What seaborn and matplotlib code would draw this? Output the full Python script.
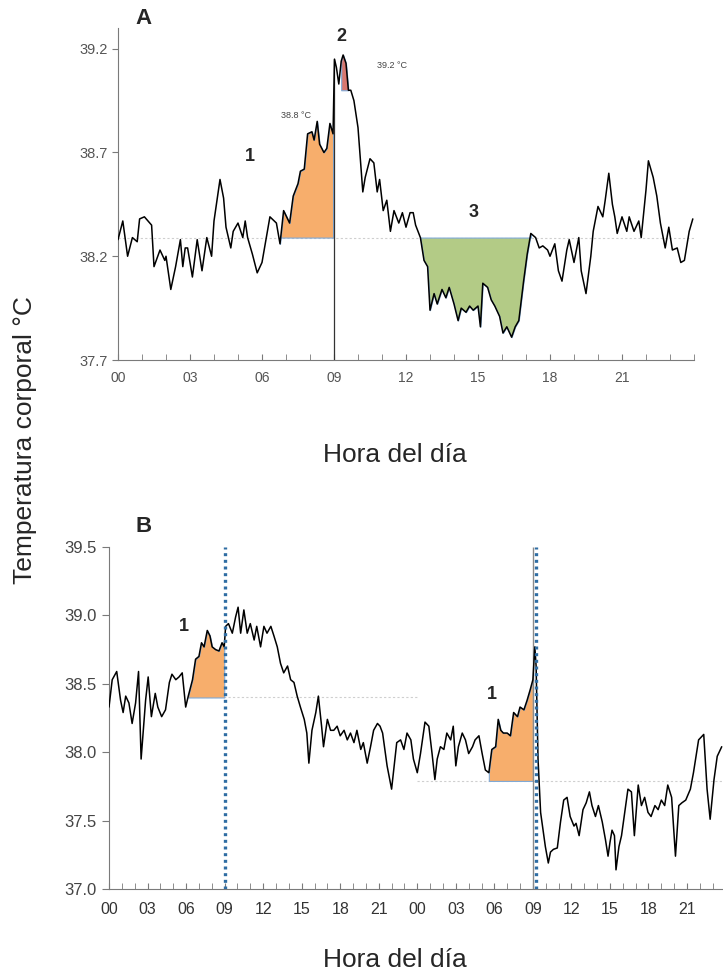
import numpy as np
import pandas as pd
import matplotlib
matplotlib.use("Agg")
import matplotlib.pyplot as plt
import seaborn as sns

# ---------------- data ----------------
hours_a = [0.0, 0.2, 0.4, 0.6, 0.8, 0.9, 1.1, 1.4, 1.5, 1.75, 1.95, 2.0, 2.2, 2.4, 2.6, 2.7, 2.8, 2.9,
           3.1, 3.3, 3.5, 3.7, 3.9, 4.0, 4.25, 4.4, 4.5, 4.7, 4.8, 5.0, 5.2, 5.3, 5.4, 5.6, 5.8, 6.0,
           6.33, 6.6, 6.75, 6.9, 7.15, 7.3, 7.5, 7.6, 7.76, 7.9, 8.08, 8.17, 8.3, 8.4, 8.58, 8.7,
           8.83, 8.96, 9.02, 9.1, 9.2, 9.3, 9.38, 9.5, 9.6, 9.7, 9.83, 10.0, 10.2, 10.3, 10.5, 10.66,
           10.8, 10.9, 11.05, 11.2, 11.35, 11.5, 11.7, 11.85, 12.0, 12.17, 12.3, 12.4, 12.6, 12.75,
           12.9, 13.0, 13.17, 13.3, 13.5, 13.66, 13.8, 14.0, 14.17, 14.3, 14.5, 14.65, 14.8, 15.0,
           15.1, 15.2, 15.4, 15.55, 15.7, 15.9, 16.04, 16.2, 16.4, 16.55, 16.7, 16.9, 17.05, 17.2,
           17.4, 17.55, 17.7, 17.9, 18.0, 18.2, 18.35, 18.5, 18.7, 18.8, 19.0, 19.2, 19.3, 19.5,
           19.7, 19.8, 20.0, 20.2, 20.3, 20.45, 20.6, 20.7, 20.8, 21.0, 21.2, 21.3, 21.5, 21.7,
           21.8, 22.0, 22.1, 22.3, 22.45, 22.6, 22.8, 22.95, 23.1, 23.3, 23.45, 23.6, 23.8, 23.95]
temp_a = [38.28, 38.37, 38.20, 38.29, 38.27, 38.38, 38.39, 38.35, 38.15, 38.23, 38.18, 38.20, 38.04,
          38.15, 38.28, 38.15, 38.24, 38.24, 38.10, 38.28, 38.13, 38.29, 38.20, 38.37, 38.57, 38.48,
          38.34, 38.24, 38.32, 38.36, 38.29, 38.37, 38.29, 38.21, 38.12, 38.17, 38.39, 38.36, 38.26,
          38.42, 38.36, 38.49, 38.55, 38.61, 38.62, 38.79, 38.80, 38.76, 38.85, 38.74, 38.70, 38.72,
          38.84, 38.79, 39.15, 39.11, 39.03, 39.14, 39.17, 39.13, 39.00, 39.00, 38.95, 38.82, 38.51,
          38.58, 38.67, 38.65, 38.51, 38.57, 38.42, 38.47, 38.32, 38.42, 38.36, 38.41, 38.34, 38.41,
          38.41, 38.35, 38.29, 38.18, 38.15, 37.94, 38.02, 37.97, 38.04, 38.00, 38.05, 37.97, 37.89,
          37.95, 37.93, 37.96, 37.94, 37.96, 37.86, 38.07, 38.05, 37.99, 37.96, 37.91, 37.83, 37.86,
          37.81, 37.86, 37.89, 38.08, 38.21, 38.31, 38.29, 38.24, 38.25, 38.23, 38.20, 38.26, 38.13,
          38.08, 38.23, 38.28, 38.17, 38.29, 38.13, 38.02, 38.20, 38.32, 38.44, 38.39, 38.47, 38.60,
          38.45, 38.39, 38.31, 38.39, 38.32, 38.39, 38.32, 38.37, 38.29, 38.52, 38.66, 38.58, 38.49,
          38.36, 38.24, 38.34, 38.23, 38.24, 38.17, 38.18, 38.32, 38.38]

hours_b = [0.0, 0.25, 0.6, 0.9, 1.1, 1.3, 1.55, 1.8, 2.07, 2.3, 2.5, 2.85, 3.05, 3.3, 3.6, 3.8, 4.1,
           4.4, 4.7, 4.9, 5.2, 5.45, 5.7, 5.97, 6.17, 6.5, 6.74, 7.0, 7.2, 7.4, 7.65, 7.86, 8.03, 8.3,
           8.56, 8.8, 8.97, 9.08, 9.3, 9.6, 9.86, 10.05, 10.25, 10.5, 10.76, 11.0, 11.3, 11.5, 11.8,
           12.06, 12.3, 12.6, 12.84, 13.1, 13.35, 13.6, 13.9, 14.14, 14.4, 14.65, 14.9, 15.2, 15.4,
           15.56, 15.8, 16.1, 16.3, 16.55, 16.7, 17.0, 17.25, 17.5, 17.76, 18.0, 18.3, 18.55, 18.8,
           19.07, 19.3, 19.6, 19.8, 20.1, 20.36, 20.6, 20.9, 21.1, 21.3, 21.65, 22.0, 22.4, 22.7,
           22.96, 23.2, 23.5, 23.7, 24.0, 24.25, 24.6, 24.9, 25.15, 25.37, 25.55, 25.8, 26.07, 26.3,
           26.6, 26.8, 27.0, 27.2, 27.5, 27.75, 28.0, 28.3, 28.5, 28.8, 29.05, 29.3, 29.57, 29.8,
           30.1, 30.3, 30.5, 30.7, 31.0, 31.25, 31.5, 31.8, 32.0, 32.3, 32.55, 32.8, 33.0, 33.15,
           33.25, 33.4, 33.6, 33.97, 34.2, 34.37, 34.6, 34.9, 35.15, 35.4, 35.66, 35.9, 36.2, 36.36,
           36.6, 36.9, 37.15, 37.4, 37.6, 37.87, 38.1, 38.4, 38.65, 38.85, 39.0, 39.16, 39.35, 39.47,
           39.7, 39.9, 40.15, 40.4, 40.67, 40.9, 41.2, 41.45, 41.7, 41.96, 42.2, 42.5, 42.75, 43.0,
           43.26, 43.5, 43.8, 44.1, 44.36, 44.6, 44.9, 45.26, 45.5, 45.9, 46.3, 46.56, 46.8, 47.1,
           47.35, 47.7]
temp_b = [38.33, 38.53, 38.59, 38.38, 38.29, 38.41, 38.36, 38.21, 38.36, 38.59, 37.95, 38.38, 38.55,
          38.26, 38.43, 38.33, 38.26, 38.31, 38.51, 38.57, 38.53, 38.55, 38.58, 38.33, 38.41, 38.53,
          38.68, 38.70, 38.80, 38.77, 38.89, 38.85, 38.77, 38.75, 38.74, 38.80, 38.77, 38.92, 38.94,
          38.87, 38.99, 39.06, 38.87, 39.04, 38.87, 38.94, 38.82, 38.92, 38.77, 38.92, 38.87, 38.92,
          38.85, 38.77, 38.65, 38.58, 38.63, 38.53, 38.51, 38.41, 38.33, 38.24, 38.14, 37.92, 38.16,
          38.29, 38.41, 38.19, 38.04, 38.24, 38.16, 38.16, 38.19, 38.12, 38.16, 38.09, 38.14, 38.07,
          38.16, 38.02, 38.07, 37.92, 38.04, 38.16, 38.21, 38.19, 38.14, 37.90, 37.73, 38.07, 38.09,
          38.02, 38.14, 38.09, 37.95, 37.85, 37.99, 38.22, 38.19, 37.99, 37.80, 37.95, 38.04, 38.02,
          38.14, 38.09, 38.19, 37.90, 38.04, 38.14, 38.09, 37.99, 38.04, 38.09, 38.12, 37.99, 37.87,
          37.85, 38.02, 38.04, 38.24, 38.16, 38.14, 38.14, 38.12, 38.29, 38.26, 38.33, 38.31, 38.38,
          38.46, 38.53, 38.77, 38.63, 37.95, 37.56, 37.31, 37.19, 37.27, 37.29, 37.30, 37.49, 37.65,
          37.67, 37.53, 37.46, 37.48, 37.39, 37.58, 37.63, 37.71, 37.61, 37.53, 37.61, 37.49, 37.36,
          37.24, 37.34, 37.43, 37.39, 37.14, 37.31, 37.39, 37.56, 37.73, 37.71, 37.39, 37.76, 37.61,
          37.67, 37.56, 37.53, 37.61, 37.58, 37.65, 37.61, 37.76, 37.67, 37.24, 37.61, 37.63, 37.65,
          37.73, 37.85, 38.09, 38.13, 37.73, 37.51, 37.80, 37.97, 38.04]

yticks_a = [37.7, 38.2, 38.7, 39.2]
xticks_a = [0, 3, 6, 9, 12, 15, 18, 21]
xlabels_a = ["00", "03", "06", "09", "12", "15", "18", "21"]
yticks_b = [37.0, 37.5, 38.0, 38.5, 39.0, 39.5]
xticks_b = [0, 3, 6, 9, 12, 15, 18, 21, 24, 27, 30, 33, 36, 39, 42, 45]
xlabels_b = ["00", "03", "06", "09", "12", "15", "18", "21",
             "00", "03", "06", "09", "12", "15", "18", "21"]

baseline_a = 38.29
baseline_b1 = 38.40
baseline_b2 = 37.79
fever_peak_a = 39.0

# ---------------- style ----------------
sns.set_style("ticks")
plt.rcParams["font.family"] = ["Liberation Sans", "DejaVu Sans"]

df_a = pd.DataFrame({"hora": hours_a, "temp": temp_a})
df_b = pd.DataFrame({"hora": hours_b, "temp": temp_b})

fig = plt.figure(figsize=(7.23, 9.76), dpi=100)
W, H = 723.0, 976.0
axA = fig.add_axes([118 / W, 1 - 360 / H, (694 - 118) / W, (360 - 28) / H])
axB = fig.add_axes([109 / W, 1 - 889 / H, (723 - 109) / W, (889 - 547) / H])

ORANGE = "#F7AE6C"
RED = "#D8776F"
GREEN = "#B3CB86"
EDGE = "#7FA9D6"
SPINE = "#7a7a7a"
TICKC = "#555555"

ha = np.array(hours_a)
ta = np.array(temp_a)
hb = np.array(hours_b)
tb = np.array(temp_b)

# ----- panel A -----
axA.plot([0, 24], [baseline_a, baseline_a], color="#cfcfcf", lw=0.8, ls=(0, (2, 2)), zorder=1)
m1 = (ha >= 6.75) & (ha <= 9.0)
axA.fill_between(ha, baseline_a, ta, where=m1, color=ORANGE, edgecolor=EDGE, lw=0.8, zorder=2)
m2 = (ha >= 9.25) & (ha <= 9.6)
axA.fill_between(ha, fever_peak_a, ta, where=m2, color=RED, edgecolor=EDGE, lw=0.8, zorder=2)
m3 = (ha >= 12.6) & (ha <= 17.2)
axA.fill_between(ha, baseline_a, ta, where=m3, color=GREEN, edgecolor=EDGE, lw=0.8, zorder=2)
axA.vlines(9.0, 37.7, 39.15, color="#333333", lw=0.9, zorder=3)
sns.lineplot(data=df_a, x="hora", y="temp", ax=axA, color="black", lw=1.1,
             estimator=None, sort=False, zorder=4)

axA.set_xlim(0, 24)
axA.set_ylim(37.7, 39.3)
axA.set_yticks(yticks_a)
axA.set_yticklabels([f"{v:.1f}" for v in yticks_a])
axA.set_xticks(xticks_a)
axA.set_xticklabels(xlabels_a)
axA.set_xticks(np.arange(0, 25, 1), minor=True)
axA.tick_params(axis="y", direction="out", length=4, color=SPINE, labelcolor=TICKC, labelsize=10.5, pad=3)
axA.tick_params(axis="x", which="both", direction="in", length=4, color=SPINE, labelcolor=TICKC,
                labelsize=10, pad=8)
for s in ["top", "right"]:
    axA.spines[s].set_visible(False)
for s in ["left", "bottom"]:
    axA.spines[s].set_color(SPINE)
axA.set_xlabel("")
axA.set_ylabel("")

axA.text(5.5, 38.68, "1", fontsize=13, fontweight="bold", ha="center", va="center")
axA.text(9.3, 39.26, "2", fontsize=13, fontweight="bold", ha="center", va="center")
axA.text(14.8, 38.41, "3", fontsize=13, fontweight="bold", ha="center", va="center")
axA.text(7.4, 38.88, "38.8 °C", fontsize=6.5, color="#444444", ha="center", va="center")
axA.text(11.4, 39.12, "39.2 °C", fontsize=6.5, color="#444444", ha="center", va="center")

# ----- panel B -----
axB.plot([6.17, 24.0], [baseline_b1, baseline_b1], color="#cfcfcf", lw=0.8, ls=(0, (2, 2)), zorder=1)
axB.plot([24.0, 47.8], [baseline_b2, baseline_b2], color="#cfcfcf", lw=0.8, ls=(0, (2, 2)), zorder=1)
mb1 = (hb >= 6.17) & (hb <= 9.0)
axB.fill_between(hb, baseline_b1, tb, where=mb1, color=ORANGE, edgecolor=EDGE, lw=0.8, zorder=2)
mb2 = (hb >= 29.57) & (hb <= 33.0)
axB.fill_between(hb, baseline_b2, tb, where=mb2, color=ORANGE, edgecolor=EDGE, lw=0.8, zorder=2)
axB.vlines(33.0, 37.0, 39.5, color="#8a8a8a", lw=1.0, zorder=3)
sns.lineplot(data=df_b, x="hora", y="temp", ax=axB, color="black", lw=1.1,
             estimator=None, sort=False, zorder=4)
for xv in [9.0, 33.27]:
    axB.vlines(xv, 37.0, 39.5, color="#2F6DA3", lw=2.4, linestyles=(0, (0.9, 1.1)), zorder=5)

axB.set_xlim(0, 47.8)
axB.set_ylim(37.0, 39.5)
axB.set_yticks(yticks_b)
axB.set_yticklabels([f"{v:.1f}" for v in yticks_b])
axB.set_xticks(xticks_b)
axB.set_xticklabels(xlabels_b)
axB.set_xticks(np.arange(0, 48, 1), minor=True)
axB.tick_params(axis="y", direction="out", length=5, color=SPINE, labelcolor="#444444", labelsize=12, pad=4)
axB.tick_params(axis="x", which="both", direction="in", length=4, color=SPINE, labelcolor="#333333",
                labelsize=11.5, pad=9)
for s in ["top", "right"]:
    axB.spines[s].set_visible(False)
for s in ["left", "bottom"]:
    axB.spines[s].set_color(SPINE)
axB.set_xlabel("")
axB.set_ylabel("")

axB.text(5.84, 38.92, "1", fontsize=13, fontweight="bold", ha="center", va="center")
axB.text(29.8, 38.42, "1", fontsize=13, fontweight="bold", ha="center", va="center")

# ----- figure texts -----
fig.text(144 / W, 1 - 19 / H, "A", fontsize=16, fontweight="bold", ha="center", va="center")
fig.text(144 / W, 1 - 527 / H, "B", fontsize=16, fontweight="bold", ha="center", va="center")
fig.text(395 / W, 1 - 455 / H, "Hora del día", fontsize=19, ha="center", va="center")
fig.text(395 / W, 1 - 960 / H, "Hora del día", fontsize=19, ha="center", va="center")
fig.text(25 / W, 1 - 440 / H, "Temperatura corporal °C", fontsize=19, rotation=90,
         ha="center", va="center")

fig.savefig("out.png", dpi=100, facecolor="white")
